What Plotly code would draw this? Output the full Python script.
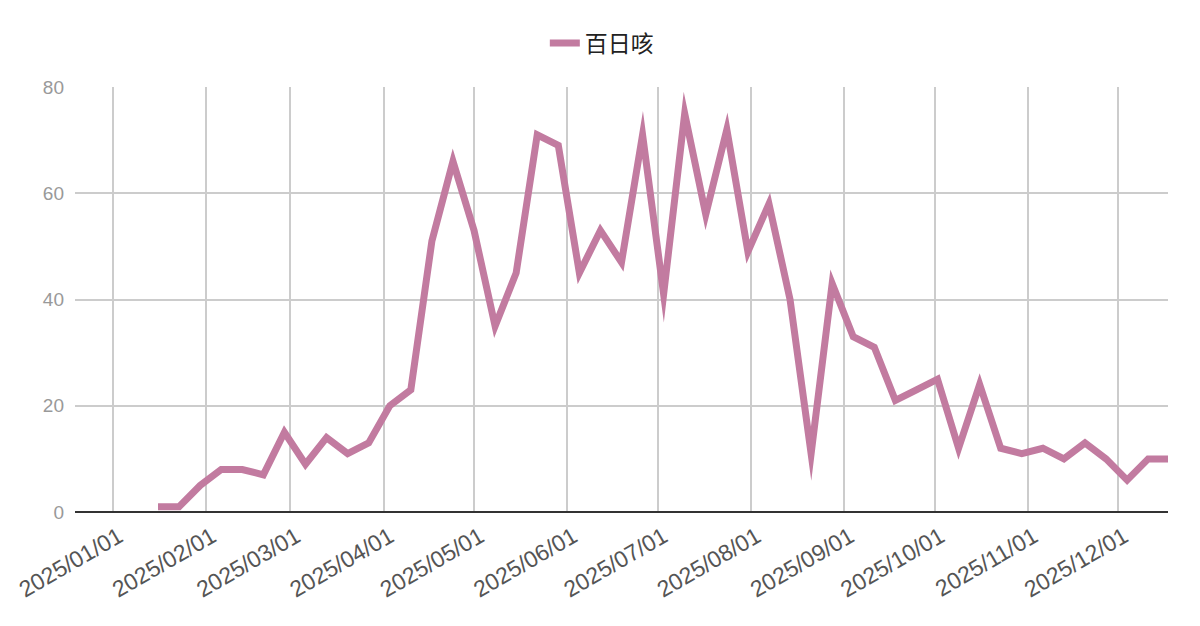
import pandas as pd
import plotly.graph_objects as go

# weekly counts, one point per week starting 2025-01-16
start = '2025-01-16'
values = [1, 1, 5, 8, 8, 7, 15, 9, 14, 11, 13, 20, 23,
          51, 66, 53, 35, 45, 71, 69, 45, 53, 47, 71, 41,
          75, 56, 72, 49, 58, 40, 11, 43, 33, 31, 21, 23,
          25, 12, 24, 12, 11, 12, 10, 13, 10, 6, 10, 10]
series_name = '百日咳'
y_ticks = [0, 20, 40, 60, 80]

dates = pd.date_range(start, periods=len(values), freq='7D')

fig = go.Figure()
fig.add_trace(go.Scatter(x=dates, y=values, mode='lines', name=series_name,
                         line=dict(color='#c27ba0', width=7)))

# page body has an 8px margin, so margins are shifted by that
fig.update_layout(
    width=1200, height=626,
    paper_bgcolor='white', plot_bgcolor='white',
    font=dict(family='Liberation Sans, Arial, Noto Sans CJK SC', size=16),
    margin=dict(l=67, r=40, t=79, b=122),
    showlegend=True,
    legend=dict(orientation='h', x=0.482, xanchor='center', y=1.1035, yanchor='middle',
                font=dict(size=23, color='#222222')),
)

fig.update_xaxes(range=['2024-12-19 10:00', '2025-12-17 14:00'],
                 tick0='2025-01-01', dtick='M1', tickformat='%Y/%m/%d',
                 tickangle=-30, tickfont=dict(size=23, color='#555555'),
                 ticklabelstandoff=6, ticklabelshift=6,
                 showgrid=True, gridcolor='#cccccc', gridwidth=2,
                 zeroline=False, showline=False, ticks='', automargin=False)

fig.update_yaxes(range=[0, 80], tickvals=y_ticks,
                 tickfont=dict(size=19, color='#999999'), ticklabelstandoff=10,
                 showgrid=True, gridcolor='#cccccc', gridwidth=2,
                 zeroline=True, zerolinecolor='#333333', zerolinewidth=2,
                 showline=False, ticks='', automargin=False)

# sharp corners on the line like the original
css = "var s=document.createElement('style');s.innerHTML='.js-line{stroke-miterlimit:40;}';document.head.appendChild(s);"
fig.write_html("out.html", post_script=css)
